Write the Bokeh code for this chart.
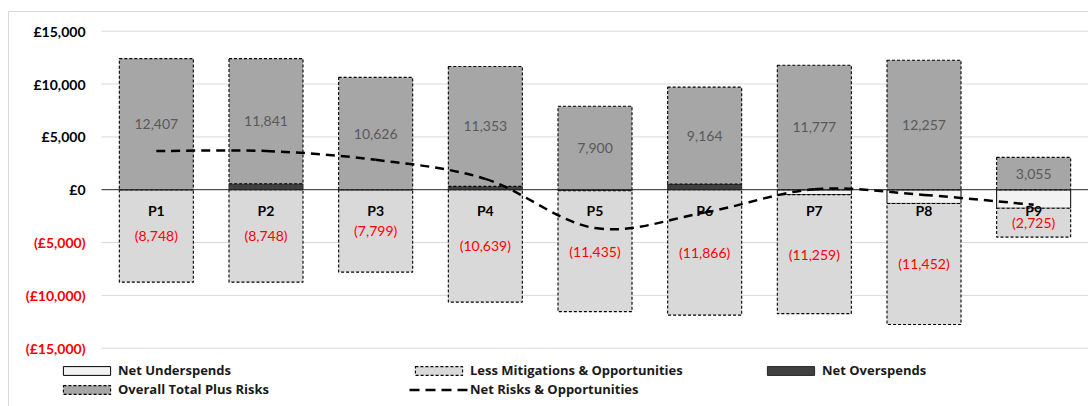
from bokeh.plotting import figure
from bokeh.models import Range1d, Legend, LegendItem
from bokeh.embed import file_html
from bokeh.resources import INLINE
from bokeh.core.properties import value

# ---------------- data ----------------
categories = ["P1", "P2", "P3", "P4", "P5", "P6", "P7", "P8", "P9"]
total_plus_risks = [12407, 11841, 10626, 11353, 7900, 9164, 11777, 12257, 3055]
mitigations = [-8748, -8748, -7799, -10639, -11435, -11866, -11259, -11452, -2725]
net_overspends = [0, 566, 0, 310, 0, 540, 0, 0, 0]
net_underspends = [0, 0, 0, 0, -100, 0, -470, -1300, -1760]
net_risks = [3659, 3659, 2827, 1024, -3635, -2162, 48, -495, -1430]
y_ticks = [-15000, -10000, -5000, 0, 5000, 10000, 15000]
y_tick_labels = ["(£15,000)", "(£10,000)", "(£5,000)", "£0", "£5,000", "£10,000", "£15,000"]

FONT = "Lato"
LEG_FONT = "Open Sans"
W, H = 1088, 406
n = len(categories)
x = list(range(1, n + 1))
bar_w = 0.675

# ---------------- layout: the frame fills the canvas ----------------
plot_left_px, plot_top_px, plot_bottom_px = 101, 30.7, 347.7
px_per_x = (W - plot_left_px) / n
x_start = 0.5 - plot_left_px / px_per_x
x_end = 0.5 + n
y_max, y_min = max(y_ticks), min(y_ticks)
units_per_px = (y_max - y_min) / (plot_bottom_px - plot_top_px)
y_end = y_max + plot_top_px * units_per_px
y_start = y_min - (H - plot_bottom_px) * units_per_px

total_bottom = net_overspends
total_top = [o + t for o, t in zip(net_overspends, total_plus_risks)]
mit_top = net_underspends
mit_bottom = [u + m for u, m in zip(net_underspends, mitigations)]

p = figure(width=W, height=H, x_range=Range1d(x_start, x_end),
           y_range=Range1d(y_start, y_end), output_backend="svg",
           toolbar_location=None, min_border=0)
p.xaxis.visible = False
p.yaxis.visible = False
p.xgrid.visible = False
p.ygrid.visible = False
p.outline_line_color = None
p.background_fill_color = "white"
p.border_fill_color = "white"

# chart border (top & left edges visible)
bx = x_start + 8 / px_per_x
by = y_end - 11 * units_per_px
p.segment(x0=[bx, bx], y0=[by, by], x1=[x_end, bx], y1=[by, y_start],
          line_color="#d9d9d9", line_width=1)

# gridlines
grid_ticks = [t for t in y_ticks if t != 0]
p.segment(x0=[0.5] * len(grid_ticks), y0=grid_ticks, x1=[x_end] * len(grid_ticks),
          y1=grid_ticks, line_color="#d9d9d9", line_width=1)

r_under = p.vbar(x=x, bottom=0, top=net_underspends, width=bar_w,
                 fill_color="#f2f2f2", line_color="#000000", line_width=1)
r_mit = p.vbar(x=x, bottom=mit_bottom, top=mit_top, width=bar_w,
               fill_color="#d9d9d9", line_color="#000000", line_width=1.1,
               line_dash="3 2")
r_over = p.vbar(x=x, bottom=0, top=net_overspends, width=bar_w,
                fill_color="#404040", line_color="#262626", line_width=1)
r_total = p.vbar(x=x, bottom=total_bottom, top=total_top, width=bar_w,
                 fill_color="#a6a6a6", line_color="#000000", line_width=1.1,
                 line_dash="3 2")

# zero line
p.segment(x0=[0.5], y0=[0], x1=[x_end], y1=[0], line_color="#262626", line_width=1)

# smoothed dashed line (Bezier segments through the data points)
x0s, y0s, x1s, y1s, cx0s, cy0s, cx1s, cy1s = [], [], [], [], [], [], [], []
for i in range(n - 1):
    im1 = max(i - 1, 0)
    ip2 = min(i + 2, n - 1)
    x0s.append(x[i]); y0s.append(net_risks[i])
    x1s.append(x[i + 1]); y1s.append(net_risks[i + 1])
    cx0s.append(x[i] + (x[i + 1] - x[im1]) / 6)
    cy0s.append(net_risks[i] + (net_risks[i + 1] - net_risks[im1]) / 6)
    cx1s.append(x[i + 1] - (x[ip2] - x[i]) / 6)
    cy1s.append(net_risks[i + 1] - (net_risks[ip2] - net_risks[i]) / 6)
p.bezier(x0=x0s, y0=y0s, x1=x1s, y1=y1s, cx0=cx0s, cy0=cy0s, cx1=cx1s, cy1=cy1s,
         line_color="#000000", line_width=2.5, line_dash="9 6")
# legend-only renderer for the dashed line
r_line_leg = p.line(x=[float("nan")], y=[float("nan")], line_color="#000000",
                    line_width=2.5, line_dash="10 6")

# value labels
total_mid = [(b + t) / 2 for b, t in zip(total_bottom, total_top)]
mit_mid = [(b + t) / 2 for b, t in zip(mit_bottom, mit_top)]
p.text(x=x, y=total_mid, text=[f"{v:,}" for v in total_plus_risks],
       text_align="center", text_baseline="middle", text_font=value(FONT),
       text_font_size="14px", text_color="#595959")
p.text(x=x, y=mit_mid, text=[f"({-v:,})" for v in mitigations],
       text_align="center", text_baseline="middle", text_font=value(FONT),
       text_font_size="14px", text_color="#ff0000")
p.text(x=x, y=[0] * n, text=categories, y_offset=21,
       text_align="center", text_baseline="middle", text_font=value(FONT),
       text_font_size="14px", text_font_style="bold", text_color="#000000")

# y tick labels
p.text(x=[0.5] * len(y_ticks), y=y_ticks, text=y_tick_labels, x_offset=-16,
       text_align="right", text_baseline="middle", text_font=value(FONT),
       text_font_size="14px", text_font_style="bold",
       text_color=["#ff0000" if t < 0 else "#000000" for t in y_ticks])

legend = Legend(items=[
    LegendItem(label="Net Underspends", renderers=[r_under]),
    LegendItem(label="Less Mitigations & Opportunities", renderers=[r_mit]),
    LegendItem(label="Net Overspends", renderers=[r_over]),
    LegendItem(label="Overall Total Plus Risks", renderers=[r_total]),
    LegendItem(label="Net Risks & Opportunities", renderers=[r_line_leg]),
], location=(57, 8), orientation="horizontal", ncols=3,
    glyph_width=59, glyph_height=11, label_height=14, label_width=290,
    label_standoff=2, spacing=1, padding=0, margin=0,
    border_line_color=None, background_fill_alpha=0,
    label_text_font=LEG_FONT, label_text_font_size="13px",
    label_text_font_style="bold", label_text_color="#1a1a1a")
p.add_layout(legend)

open("out.html", "w").write(file_html(p, INLINE))
